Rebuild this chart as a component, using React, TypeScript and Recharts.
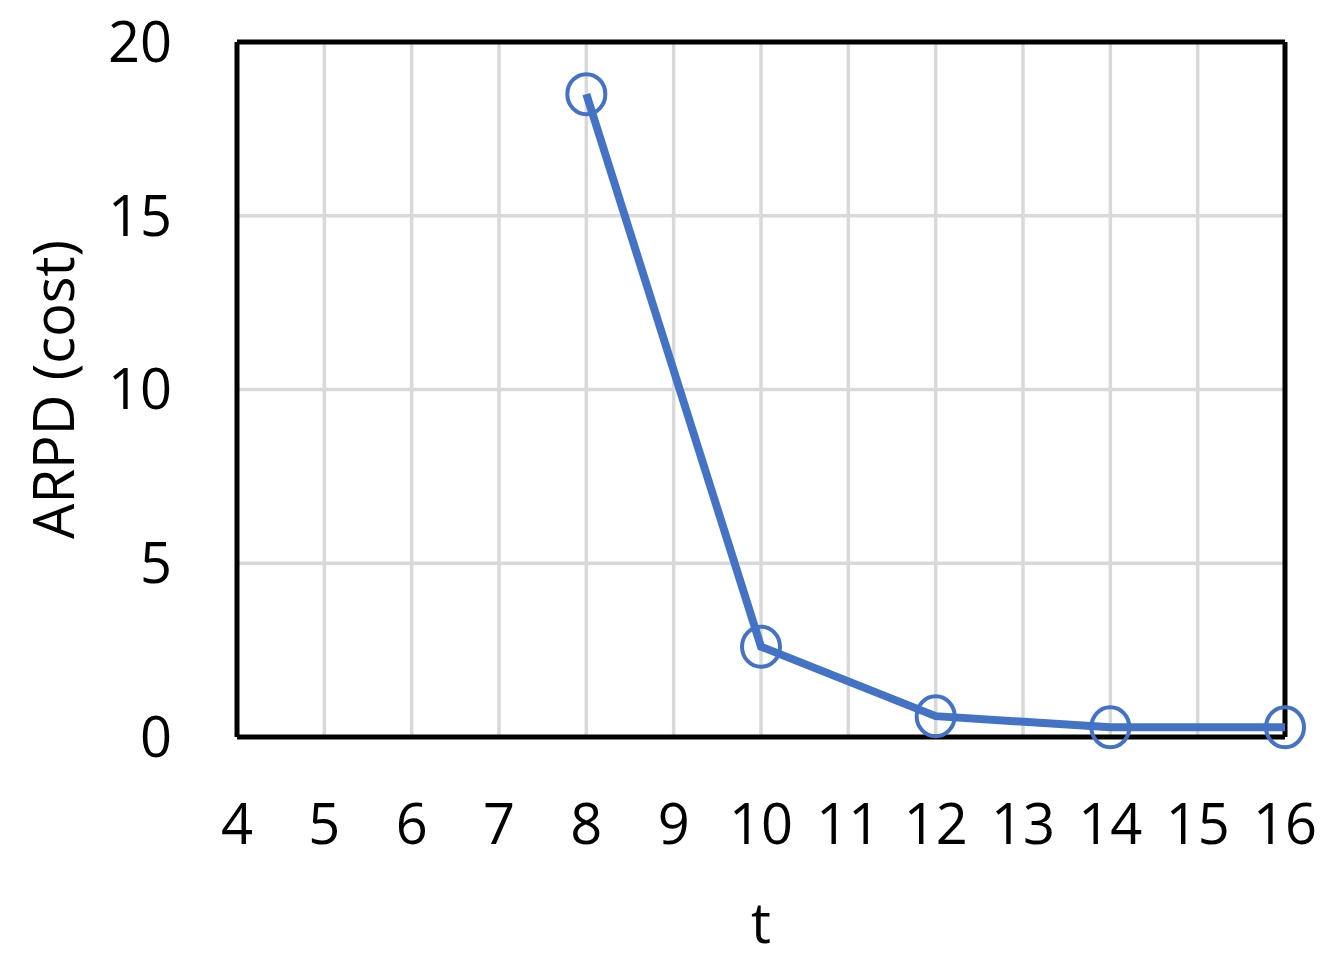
import {
  CartesianGrid,
  Line,
  LineChart,
  ReferenceLine,
  XAxis,
  YAxis,
} from "recharts";

const tValues = [8, 10, 12, 14, 16];
const arpdValues = [18.5, 2.6, 0.6, 0.28, 0.28];
const xTicks = [4, 5, 6, 7, 8, 9, 10, 11, 12, 13, 14, 15, 16];
const yTicks = [0, 5, 10, 15, 20];

const data = tValues.map((t, i) => ({ t, arpd: arpdValues[i] }));

const blue = "#4472C4";
const font = "'Open Sans', sans-serif";

function Marker(props: any) {
  const { cx, cy } = props;
  if (cx == null || cy == null) return null;
  return <ellipse cx={cx} cy={cy} rx={19} ry={20} fill="none" stroke={blue} strokeWidth={4} />;
}

export default function App() {
  return (
    <div style={{ position: "absolute", left: 0, top: 0, background: "#fff" }}>
      <LineChart
        width={1333}
        height={960}
        data={data}
        margin={{ top: 42, right: 48, bottom: 0, left: 0 }}
      >
        <CartesianGrid stroke="#d9d9d9" strokeWidth={3.5} />
        <XAxis
          dataKey="t"
          type="number"
          domain={[4, 16]}
          ticks={xTicks}
          height={223}
          axisLine={{ stroke: "#000", strokeWidth: 5 }}
          tickLine={false}
          tickMargin={61}
          tick={{ fill: "#000", fontSize: 56, fontFamily: font }}
          label={{
            value: "t",
            position: "insideBottom",
            offset: 17,
            fill: "#000",
            fontSize: 56,
            fontFamily: font,
          }}
        />
        <YAxis
          type="number"
          domain={[0, 20]}
          ticks={yTicks}
          width={237}
          axisLine={{ stroke: "#000", strokeWidth: 5 }}
          tickLine={false}
          tickMargin={59}
          tick={{ fill: "#000", fontSize: 56, fontFamily: font }}
          label={{
            value: "ARPD (cost)",
            angle: -90,
            position: "insideLeft",
            offset: 54,
            fill: "#000",
            fontSize: 56,
            fontFamily: font,
            style: { textAnchor: "middle" },
          }}
        />
        <ReferenceLine y={20} stroke="#000" strokeWidth={5} />
        <ReferenceLine x={16} stroke="#000" strokeWidth={5} />
        <Line
          dataKey="arpd"
          stroke={blue}
          strokeWidth={8}
          dot={<Marker />}
          activeDot={false}
          isAnimationActive={false}
        />
      </LineChart>
    </div>
  );
}
